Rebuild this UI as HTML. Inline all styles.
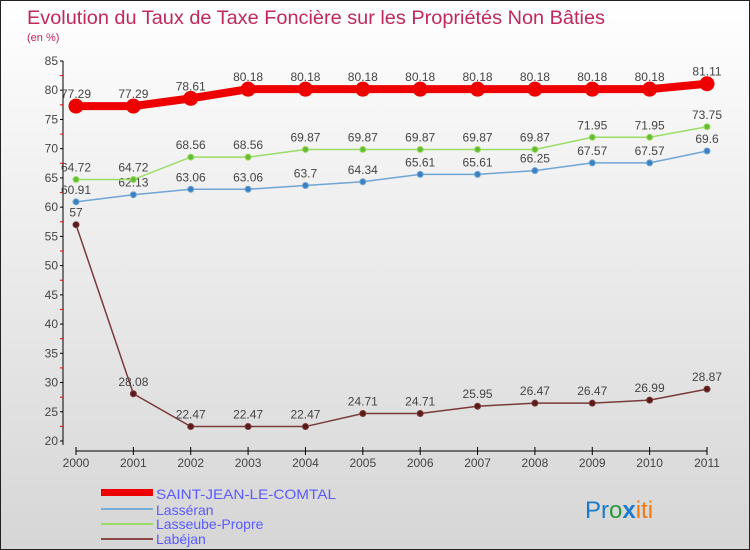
<!DOCTYPE html>
<html><head><meta charset="utf-8"><style>
body{margin:0}
#wrap{position:relative;width:748px;height:548px;border:1px solid #222;background:linear-gradient(#ffffff,#f2f2f2 30%,#d6d6d6);font-family:"Liberation Sans",sans-serif;overflow:hidden}
svg{position:absolute;left:0;top:0}
</style></head><body>
<div id="wrap">
<svg id="c" width="748" height="548">
<text x="26" y="23" font-size="19" fill="#c0285a" textLength="578" lengthAdjust="spacingAndGlyphs">Evolution du Taux de Taxe Foncière sur les Propriétés Non Bâties</text>
<text x="26" y="40" font-size="11" fill="#c0285a">(en %)</text>
<g id="axes"></g><g id="series"></g>
<g font-size="14" fill="#5a5aff">
<rect x="100" y="488" width="52" height="7" fill="#e00"/>
<text x="155" y="498" textLength="180" lengthAdjust="spacingAndGlyphs">SAINT-JEAN-LE-COMTAL</text>
<rect x="100" y="507" width="52" height="2" fill="#7aaed6"/>
<text x="155" y="514">Lasséran</text>
<rect x="100" y="522" width="52" height="2" fill="#99dd66"/>
<text x="155" y="528">Lasseube-Propre</text>
<rect x="100" y="537" width="52" height="2" fill="#8a4a4a"/>
<text x="155" y="543">Labéjan</text>
</g>
<text x="584" y="517" font-size="24"><tspan fill="#1a7acc">Pr</tspan><tspan fill="#2a9a3a">o</tspan><tspan fill="#1a7acc" font-weight="bold">x</tspan><tspan fill="#f07a10">iti</tspan></text>
</svg></div>
<script>
const years=[2000,2001,2002,2003,2004,2005,2006,2007,2008,2009,2010,2011];
const yTicks=[20,25,30,35,40,45,50,55,60,65,70,75,80,85];
const saint=[77.29,77.29,78.61,80.18,80.18,80.18,80.18,80.18,80.18,80.18,80.18,81.11];
const lasseran=[60.91,62.13,63.06,63.06,63.7,64.34,65.61,65.61,66.25,67.57,67.57,69.6];
const lasseube=[64.72,64.72,68.56,68.56,69.87,69.87,69.87,69.87,69.87,71.95,71.95,73.75];
const labejan=[57,28.08,22.47,22.47,22.47,24.71,24.71,25.95,26.47,26.47,26.99,28.87];
const NS="http://www.w3.org/2000/svg";
const X=i=>75+i*(631/11);
const Y=v=>440-(v-20)*(380/65);
function mk(t,a,p){const e=document.createElementNS(NS,t);for(const k in a)e.setAttribute(k,a[k]);p.appendChild(e);return e;}
const ax=document.getElementById('axes'),sg=document.getElementById('series');
let l=mk('line',{x1:62,y1:Y(85),x2:62,y2:444,stroke:'#000'},ax);


yTicks.forEach(v=>{
 let t=mk('line',{x1:59,x2:62,y1:Y(v),y2:Y(v),stroke:'#000'},ax);
 
 
 if(v<85){let m=mk('line',{x1:59,x2:62,y1:Y(v+2.5),y2:Y(v+2.5),stroke:'#e00'},ax);
 
 }
 let tx=mk('text',{x:57,y:Y(v)+4,'text-anchor':'end','font-size':12,fill:'#444'},ax);tx.textContent=v;
 
 
});
let xa=mk('line',{x1:X(0),x2:X(11),y1:450,y2:450,stroke:'#000'},ax);


years.forEach((y,i)=>{
 let t=mk('line',{x1:X(i),x2:X(i),y1:446,y2:454,stroke:'#000'},ax);
 
 
 let tx=mk('text',{x:X(i),y:466,'text-anchor':'middle','font-size':12,fill:'#444'},ax);tx.textContent=y;
 
 
});
function series(vals,color,w,r,fill,name){
 const g=mk('g',{},sg);
 
 
 let p=mk('polyline',{points:vals.map((v,i)=>X(i)+','+Y(v)).join(' '),fill:'none',stroke:color,'stroke-width':w},g);
 
 
 vals.forEach((v,i)=>{
  let c=mk('circle',{cx:X(i),cy:Y(v),r:r,fill:fill,stroke:color,'stroke-width':1},g);
  
  
  let t=mk('text',{x:X(i),y:Y(v)-8,'text-anchor':'middle','font-size':12,fill:'#444'},g);t.textContent=v;
  
  
 });
}
series(labejan,'#7a3a3a',1.5,3,'#5a1a1a','labejan');
series(lasseran,'#6fa5d5',1.5,3,'#3a80c0','lasseran');
series(lasseube,'#99dd66',1.5,3,'#66bb33','lasseube');
series(saint,'#e00',8,7,'#e00','saint-jean');
</script></body></html>
